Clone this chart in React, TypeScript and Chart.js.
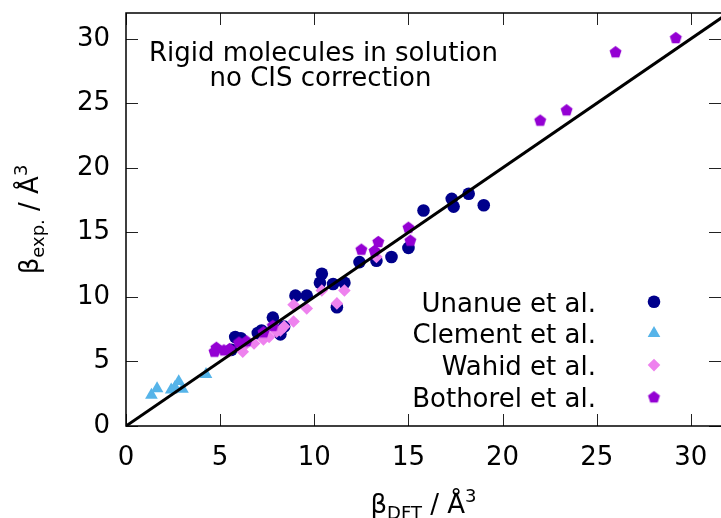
import { useEffect, useRef } from 'react';
import { Chart, registerables } from 'chart.js';

Chart.register(...registerables);

const seriesNames = ['Unanue et al.', 'Clement et al.', 'Wahid et al.', 'Bothorel et al.'];
const seriesColors = ['#00008b', '#56b4e9', '#ee82ee', '#9400d3'];

const unanueX = [5.6, 5.8, 6.1, 6.1, 7.0, 7.2, 7.8, 8.2, 8.4, 9.0, 9.6, 10.4, 10.3, 11.0, 11.2, 11.6, 12.4, 13.3, 14.1, 15.0, 15.8, 17.3, 17.4, 18.2, 19.0];
const unanueY = [5.9, 6.9, 6.8, 6.4, 7.2, 7.4, 8.4, 7.1, 7.7, 10.1, 10.1, 11.8, 11.1, 11.0, 9.2, 11.1, 12.7, 12.8, 13.1, 13.8, 16.7, 17.6, 17.0, 18.0, 17.1];

const clementX = [1.35, 1.65, 2.4, 2.6, 2.8, 3.0, 4.25];
const clementY = [2.4, 2.9, 2.8, 3.0, 3.45, 2.85, 4.0];

const wahidX = [5.5, 6.2, 6.2, 6.8, 7.3, 7.6, 8.0, 8.2, 8.4, 8.9, 8.9, 9.6, 10.4, 11.2, 11.6, 13.3];
const wahidY = [5.8, 5.75, 6.1, 6.4, 6.7, 6.9, 7.3, 7.4, 7.7, 8.1, 9.4, 9.1, 10.5, 9.5, 10.5, 13.1];

const bothorelX = [4.7, 4.8, 5.2, 5.5, 6.0, 6.4, 7.3, 7.8, 12.5, 13.2, 13.4, 15.0, 15.1, 22.0, 23.4, 26.0, 29.2];
const bothorelY = [5.8, 6.1, 5.9, 6.0, 6.5, 6.6, 7.3, 7.8, 13.7, 13.6, 14.3, 15.4, 14.4, 23.7, 24.5, 29.0, 30.1];

const diagonalX = [0, 32];
const diagonalY = [0, 32];

const xTicks = [0, 5, 10, 15, 20, 25, 30];
const yTicks = [0, 5, 10, 15, 20, 25, 30];
const xRange = [0, 31.6];
const yRange = [0, 32];

const titleLines = ['Rigid molecules in solution', 'no CIS correction'];

const FONT = 'DejaVu Sans';

function pts(xs: number[], ys: number[]) {
  return xs.map((x, i) => ({ x, y: ys[i] }));
}

function makePentagon(color: string, r: number) {
  const size = Math.ceil(r * 2 + 2);
  const c = document.createElement('canvas');
  c.width = size;
  c.height = size;
  const ctx = c.getContext('2d')!;
  const cx = size / 2;
  const cy = size / 2 + r * 0.1;
  ctx.fillStyle = color;
  ctx.beginPath();
  for (let k = 0; k < 5; k++) {
    const a = -Math.PI / 2 + (k * 2 * Math.PI) / 5;
    const px = cx + r * Math.cos(a);
    const py = cy + r * Math.sin(a);
    if (k === 0) ctx.moveTo(px, py);
    else ctx.lineTo(px, py);
  }
  ctx.closePath();
  ctx.fill();
  return c;
}

type Seg = { t: string; size: number; dy: number };

function drawRich(ctx: CanvasRenderingContext2D, segs: Seg[], cx: number, baseline: number) {
  let total = 0;
  const widths = segs.map((s) => {
    ctx.font = `${s.size}px "${FONT}"`;
    const w = ctx.measureText(s.t).width;
    total += w;
    return w;
  });
  let x = cx - total / 2;
  ctx.textAlign = 'left';
  ctx.textBaseline = 'alphabetic';
  segs.forEach((s, i) => {
    ctx.font = `${s.size}px "${FONT}"`;
    ctx.fillText(s.t, x, baseline + s.dy);
    x += widths[i];
  });
}

function drawMarker(ctx: CanvasRenderingContext2D, kind: number, x: number, y: number, pent: HTMLCanvasElement) {
  ctx.fillStyle = seriesColors[kind];
  ctx.beginPath();
  if (kind === 0) {
    ctx.arc(x, y, 6.3, 0, Math.PI * 2);
    ctx.fill();
  } else if (kind === 1) {
    const r = 7.3;
    ctx.moveTo(x, y - r);
    ctx.lineTo(x + r * Math.cos(Math.PI / 6), y + r / 2);
    ctx.lineTo(x - r * Math.cos(Math.PI / 6), y + r / 2);
    ctx.closePath();
    ctx.fill();
  } else if (kind === 2) {
    const r = 6.3;
    ctx.moveTo(x - r, y);
    ctx.lineTo(x, y - r);
    ctx.lineTo(x + r, y);
    ctx.lineTo(x, y + r);
    ctx.closePath();
    ctx.fill();
  } else {
    ctx.drawImage(pent, x - pent.width / 2, y - pent.height / 2);
  }
}

function zeroPad(s: any) {
  s.paddingLeft = 0;
  s.paddingRight = 0;
  s.paddingTop = 0;
  s.paddingBottom = 0;
}

export default function App() {
  const ref = useRef<HTMLCanvasElement>(null);

  useEffect(() => {
    document.body.style.margin = '0';
    const canvas = ref.current!;
    const pent = makePentagon(seriesColors[3], 6.3);

    const overlay = {
      id: 'overlay',
      afterDraw(chart: any) {
        const ctx: CanvasRenderingContext2D = chart.ctx;
        const a = chart.chartArea;
        const xs = chart.scales.x;
        const ys = chart.scales.y;
        ctx.save();
        // ticks
        ctx.strokeStyle = '#222';
        ctx.lineWidth = 1;
        const tl = 12;
        xTicks.forEach((v) => {
          const px = Math.round(xs.getPixelForValue(v)) + 0.5;
          ctx.beginPath();
          ctx.moveTo(px, a.bottom);
          ctx.lineTo(px, a.bottom - tl);
          ctx.moveTo(px, a.top);
          ctx.lineTo(px, a.top + tl);
          ctx.stroke();
        });
        yTicks.forEach((v) => {
          const py = Math.round(ys.getPixelForValue(v)) + 0.5;
          ctx.beginPath();
          ctx.moveTo(a.left, py);
          ctx.lineTo(a.left + tl, py);
          ctx.moveTo(a.right, py);
          ctx.lineTo(a.right - tl, py);
          ctx.stroke();
        });
        // frame (right edge lies at the canvas edge)
        ctx.strokeStyle = '#000';
        ctx.lineWidth = 1.5;
        ctx.beginPath();
        ctx.moveTo(a.right + 2, a.top);
        ctx.lineTo(a.left, a.top);
        ctx.lineTo(a.left, a.bottom);
        ctx.lineTo(a.right + 2, a.bottom);
        ctx.stroke();

        // title text
        ctx.fillStyle = '#000';
        ctx.font = `26px "${FONT}"`;
        ctx.textAlign = 'center';
        ctx.textBaseline = 'alphabetic';
        ctx.fillText(titleLines[0], 323.5, 61);
        ctx.fillText(titleLines[1], 320.5, 86);

        // legend
        seriesNames.forEach((n, i) => {
          const base = 311.7 + i * 31.7;
          ctx.fillStyle = '#000';
          ctx.font = `26px "${FONT}"`;
          ctx.textAlign = 'right';
          ctx.fillText(n, 596, base);
          drawMarker(ctx, i, 654, base - 10, pent);
        });

        // axis titles
        ctx.fillStyle = '#000';
        drawRich(
          ctx,
          [
            { t: 'β', size: 26, dy: 0 },
            { t: 'DFT', size: 18, dy: 6 },
            { t: ' / Å', size: 26, dy: 0 },
            { t: '3', size: 18, dy: -11 },
          ],
          (a.left + a.right) / 2,
          513
        );
        ctx.save();
        ctx.translate(38, (a.top + a.bottom) / 2);
        ctx.rotate(-Math.PI / 2);
        drawRich(
          ctx,
          [
            { t: 'β', size: 26, dy: 0 },
            { t: 'exp.', size: 18, dy: 6 },
            { t: ' / Å', size: 26, dy: 0 },
            { t: '3', size: 18, dy: -11 },
          ],
          0,
          0
        );
        ctx.restore();
        ctx.restore();
      },
    };

    const chart = new Chart(canvas, {
      type: 'scatter',
      data: {
        datasets: [
          {
            label: 'y = x',
            data: pts(diagonalX, diagonalY),
            showLine: true,
            borderColor: '#000',
            borderWidth: 3,
            pointRadius: 0,
            order: 0,
          } as any,
          {
            label: seriesNames[3],
            data: pts(bothorelX, bothorelY),
            pointStyle: pent,
            pointRadius: 6.3,
            backgroundColor: seriesColors[3],
            borderColor: seriesColors[3],
            order: 1,
          },
          {
            label: seriesNames[2],
            data: pts(wahidX, wahidY),
            pointStyle: 'rectRot',
            pointRadius: 6.3,
            pointBorderWidth: 0,
            backgroundColor: seriesColors[2],
            borderColor: seriesColors[2],
            order: 2,
          },
          {
            label: seriesNames[1],
            data: pts(clementX, clementY),
            pointStyle: 'triangle',
            pointRadius: 7.3,
            pointBorderWidth: 0,
            backgroundColor: seriesColors[1],
            borderColor: seriesColors[1],
            order: 3,
          },
          {
            label: seriesNames[0],
            data: pts(unanueX, unanueY),
            pointStyle: 'circle',
            pointRadius: 6.3,
            pointBorderWidth: 0,
            backgroundColor: seriesColors[0],
            borderColor: seriesColors[0],
            order: 4,
          },
        ],
      },
      options: {
        animation: false,
        responsive: false,
        devicePixelRatio: 1,
        layout: { autoPadding: false, padding: { top: 13, left: 0, right: 0, bottom: 0 } },
        plugins: {
          legend: { display: false },
          tooltip: { enabled: false },
        },
        scales: {
          x: {
            type: 'linear',
            min: xRange[0],
            max: xRange[1],
            grid: { display: false, drawTicks: false },
            border: { display: false },
            ticks: {
              font: { family: FONT, size: 26 },
              color: '#000',
              padding: 17,
              maxRotation: 0,
              autoSkip: false,
            },
            afterBuildTicks: (s: any) => {
              s.ticks = xTicks.map((v) => ({ value: v }));
            },
            afterFit: (s: any) => {
              s.height = 92;
              zeroPad(s);
            },
          },
          y: {
            type: 'linear',
            min: yRange[0],
            max: yRange[1],
            grid: { display: false, drawTicks: false },
            border: { display: false },
            ticks: {
              font: { family: FONT, size: 26 },
              color: '#000',
              padding: 16,
              autoSkip: false,
            },
            afterBuildTicks: (s: any) => {
              s.ticks = yTicks.map((v) => ({ value: v }));
            },
            afterFit: (s: any) => {
              s.width = 126;
              zeroPad(s);
            },
          },
        },
      },
      plugins: [overlay],
    });
    return () => chart.destroy();
  }, []);

  return (
    <div style={{ width: 721, height: 518 }}>
      <canvas ref={ref} width={721} height={518} style={{ display: 'block' }} />
    </div>
  );
}
